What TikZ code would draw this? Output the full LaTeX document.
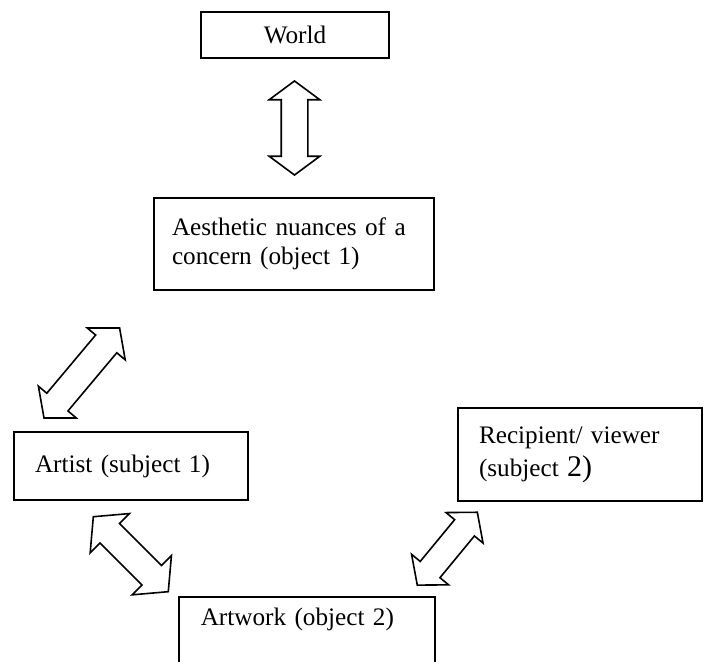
\documentclass[tikz,border=0pt]{standalone}
\usepackage{fontspec}
\setmainfont{Liberation Serif}
\usetikzlibrary{shapes.arrows}

\begin{document}
\begin{tikzpicture}[x=0.5pt,y=-0.5pt,
    box/.style={draw,line width=0.8pt,inner xsep=10.5pt,inner ysep=0pt,align=left,
      font=\fontsize{12.6}{14.5}\selectfont},
    twoway/.style={double arrow,draw,line width=0.8pt,inner xsep=0pt,inner ysep=6.5pt,
      double arrow head extend=6pt,double arrow tip angle=100}]
    \useasboundingbox (0,0) rectangle (706,662);
    % boxes
    \node[box,align=center,minimum width=94pt,minimum height=23pt] (world) at (295,35) {World};
    \node[box,inner xsep=9pt,text width=122pt,minimum height=46pt] (concern) at (294,244)
      {Aesthetic nuances of a\\concern (object 1)};
    \node[box,text width=96pt,minimum height=34pt] (artist) at (131,466) {Artist (subject 1)};
    \node[box,text width=101pt,minimum height=46.5pt] (viewer) at (580,454.5)
      {Recipient/ viewer\\[2pt](subject {\fontsize{15}{16}\selectfont 2)}};
    \node[box,anchor=north west,inner xsep=11pt,text width=106pt,
      text height=14.5pt,text depth=30pt] (artwork) at (178,596) {Artwork (object 2)};
    % two-way arrows
    \node[twoway,rotate=90,minimum height=47pt,inner ysep=6.25pt,
      double arrow tip angle=107] (wc) at (294.5,128) {};
    \node[twoway,rotate=50,minimum height=58.8pt,double arrow head extend=5.5pt] (ac) at (81.8,373) {};
    \node[twoway,rotate=-45,minimum height=53pt,double arrow head extend=7pt] (aw) at (130.8,554.2) {};
    \node[twoway,rotate=50.5,minimum height=47.2pt,inner ysep=6pt,
      double arrow head extend=5.6pt] (vw) at (447.3,548.7) {};
\end{tikzpicture}
\end{document}
